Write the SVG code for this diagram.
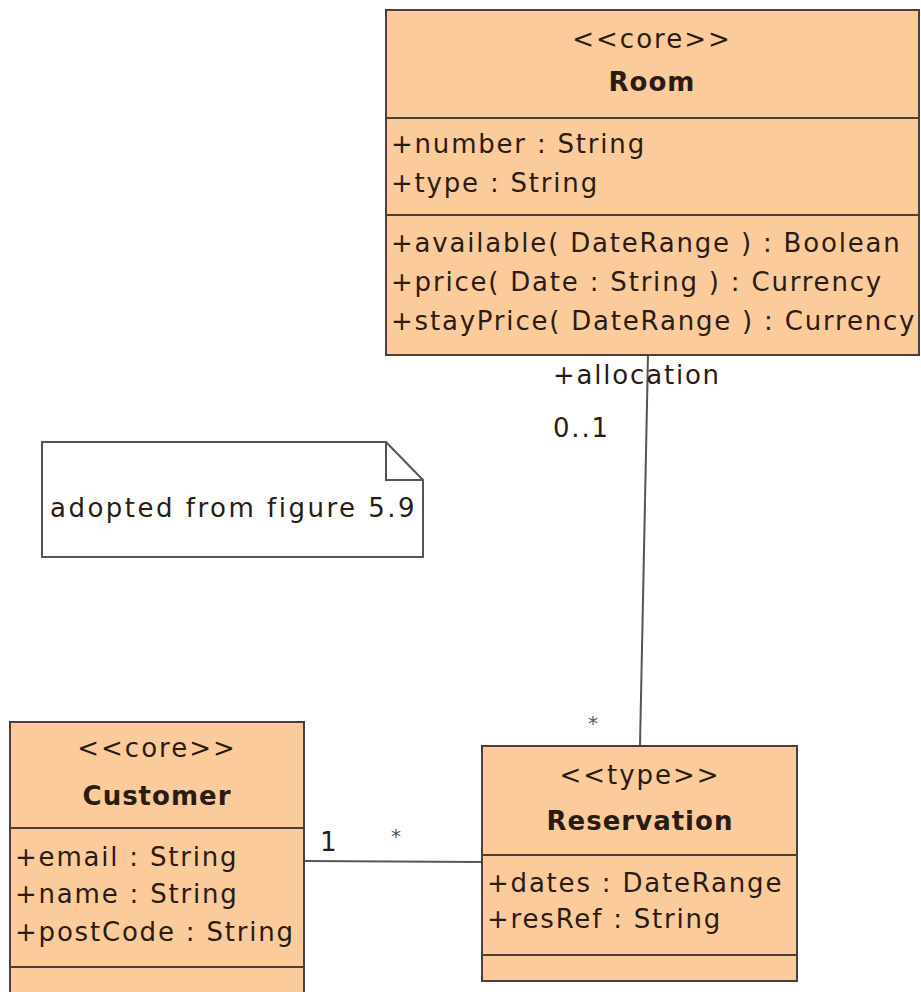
<svg xmlns="http://www.w3.org/2000/svg" width="921" height="992" viewBox="0 0 921 992">
<style>
.box{fill:#fccb9b;stroke:#4a4038;stroke-width:2}
.div{stroke:#4a4038;stroke-width:2}
text{font-family:"DejaVu Sans","Liberation Sans",sans-serif;font-size:26px;fill:#2a1c14;letter-spacing:1.8px}
.c{text-anchor:middle}
.s{letter-spacing:2px}
.b{font-weight:bold;letter-spacing:1px}
.n{letter-spacing:2.5px;font-size:26px}
.st{font-size:20px;fill:#555}
.conn{stroke:#555;stroke-width:2;fill:none}
</style>
<rect width="921" height="992" fill="#fff"/>
<g id="connectors">
<line class="conn" x1="648" y1="355" x2="640" y2="746"/>
<line class="conn" x1="304" y1="861" x2="482" y2="862"/>
<text x="553" y="384">+allocation</text>
<text x="553" y="437">0..1</text>
<text class="st" x="588" y="730">*</text>
<text x="320" y="851">1</text>
<text class="st" x="391" y="843">*</text>
</g>
<g id="room">
<rect class="box" x="386" y="10" width="533" height="345"/>
<line class="div" x1="386" y1="118" x2="919" y2="118"/>
<line class="div" x1="386" y1="215" x2="919" y2="215"/>
<text class="c s" x="652" y="48">&lt;&lt;core&gt;&gt;</text>
<text class="c b" x="652" y="91">Room</text>
<text x="391" y="153">+number : String</text>
<text x="391" y="192">+type : String</text>
<text x="391" y="252">+available( DateRange ) : Boolean</text>
<text x="391" y="291">+price( Date : String ) : Currency</text>
<text x="391" y="330">+stayPrice( DateRange ) : Currency</text>
</g>
<g id="note">
<path d="M42,442 H386 L423,480 V557 H42 Z" fill="#fff" stroke="#555" stroke-width="2"/>
<path d="M386,442 V480 H423" fill="none" stroke="#555" stroke-width="2"/>
<text class="n" x="50" y="517">adopted from figure 5.9</text>
</g>
<g id="customer">
<rect class="box" x="10" y="722" width="294" height="272"/>
<line class="div" x1="10" y1="828" x2="304" y2="828"/>
<line class="div" x1="10" y1="967" x2="304" y2="967"/>
<text class="c s" x="157" y="757">&lt;&lt;core&gt;&gt;</text>
<text class="c b" x="157" y="805">Customer</text>
<text x="15" y="866">+email : String</text>
<text x="15" y="903">+name : String</text>
<text x="15" y="941">+postCode : String</text>
</g>
<g id="reservation">
<rect class="box" x="482" y="746" width="315" height="235"/>
<line class="div" x1="482" y1="855" x2="797" y2="855"/>
<line class="div" x1="482" y1="955" x2="797" y2="955"/>
<text class="c s" x="640" y="784">&lt;&lt;type&gt;&gt;</text>
<text class="c b" x="640" y="830">Reservation</text>
<text x="487" y="892">+dates : DateRange</text>
<text x="487" y="928">+resRef : String</text>
</g>
</svg>
